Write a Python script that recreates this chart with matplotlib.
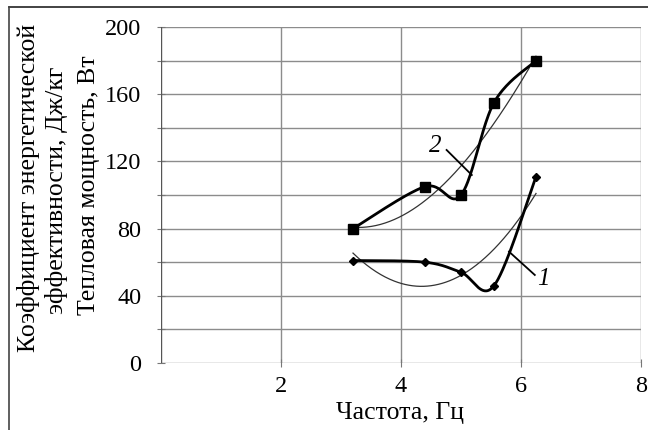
import numpy as np
import matplotlib
matplotlib.use("Agg")
import matplotlib.pyplot as plt
from matplotlib.lines import Line2D

# Frequency, Hz
freq = [3.2, 4.4, 5.0, 5.55, 6.25]
# Curve 1: energy efficiency coefficient, J/kg
coef_1 = [61, 60, 54, 46, 111]
# Curve 2: heat power, W
power_2 = [80, 105, 100, 155, 180]

x_ticks = [2, 4, 6, 8]
y_ticks = [0, 40, 80, 120, 160, 200]

SERIF = ["Liberation Serif", "DejaVu Serif"]
plt.rcParams["font.family"] = SERIF

W, H = 648, 430
fig = plt.figure(figsize=(W / 100, H / 100), dpi=100)
ax = fig.add_axes([161 / W, (H - 363) / H, (641 - 161) / W, (363 - 27) / H])
ax.set_xlim(0, 8)
ax.set_ylim(0, 200)

# grid
grid_kw = dict(color="#8c8c8c", lw=1.0, zorder=1)
for yv in range(0, 201, 20):
    ax.axhline(yv, **grid_kw)
for xv in x_ticks:
    ax.axvline(xv, **grid_kw)
for s in ax.spines.values():
    s.set_visible(False)
ax.axvline(0, color="#555555", lw=1.0, zorder=2)

ax.set_xticks(x_ticks)
ax.set_yticks(y_ticks)
ax.set_yticks(range(20, 200, 40), minor=True)
ax.tick_params(axis="both", which="both", direction="inout", length=6,
               width=0.8, color="#777777", labelsize=17.5)
ax.tick_params(axis="x", pad=6)
ax.tick_params(axis="y", pad=11)


def smooth(xs, ys, sx=60.0, sy=1.68, n=40):
    """Bezier smoothing with Catmull-Rom control points in screen scale."""
    P = np.column_stack([np.asarray(xs) * sx, np.asarray(ys) * sy])
    out = []
    for i in range(len(P) - 1):
        p0 = P[i - 1] if i > 0 else P[i]
        p1, p2 = P[i], P[i + 1]
        p3 = P[i + 2] if i + 2 < len(P) else P[i + 1]
        c1 = p1 + (p2 - p0) / 6.0
        c2 = p2 - (p3 - p1) / 6.0
        t = np.linspace(0, 1, n)[:, None]
        seg = ((1 - t) ** 3) * p1 + 3 * ((1 - t) ** 2) * t * c1 \
            + 3 * (1 - t) * t ** 2 * c2 + t ** 3 * p2
        out.append(seg if i == 0 else seg[1:])
    out = np.vstack(out)
    return out[:, 0] / sx, out[:, 1] / sy


# thin polynomial trend lines
xx = np.linspace(freq[0], freq[-1], 200)
p1 = np.polyfit(freq, coef_1, 2)
p2 = np.polyfit(freq, power_2, 3)
ax.plot(xx, np.polyval(p1, xx), color="#333333", lw=0.9, zorder=3)
ax.plot(xx, np.polyval(p2, xx), color="#333333", lw=0.9, zorder=3)

# thick smoothed data curves
sx1, sy1 = smooth(freq, coef_1)
sx2, sy2 = smooth(freq, power_2)
ax.plot(sx1, sy1, color="black", lw=2.0, zorder=4)
ax.plot(sx2, sy2, color="black", lw=2.0, zorder=4)
ax.plot(freq, coef_1, linestyle="none", marker="D", ms=4.5,
        color="black", zorder=5)
ax.plot(freq, power_2, linestyle="none", marker="s", ms=6.5,
        color="black", zorder=5)

# curve labels with leaders
ax.text(4.57, 129, "2", fontsize=18, style="italic", ha="center", va="center")
ax.plot([4.76, 5.18], [126.8, 111.9], color="black", lw=1.3, zorder=4)
ax.text(6.38, 50, "1", fontsize=18, style="italic", ha="center", va="center")
ax.plot([6.23, 5.80], [52.4, 66.3], color="black", lw=1.3, zorder=4)

# axis titles
fig.text(400 / W, 1 - 413 / H, "Частота, Гц", fontsize=18.5,
         ha="center", va="center")
fig.text(29 / W, 1 - 188 / H, "Коэффициент энергетической",
         fontsize=18.5, rotation=90, ha="center", va="center")
fig.text(57 / W, 1 - 190 / H, "эффективности, Дж/кг",
         fontsize=18.5, rotation=90, ha="center", va="center")
fig.text(89 / W, 1 - 185 / H, "Тепловая мощность, Вт",
         fontsize=18.5, rotation=90, ha="center", va="center")

# frame lines along the top and left edges
fig.add_artist(Line2D([9 / W, 1], [1 - 7 / H, 1 - 7 / H],
                      transform=fig.transFigure, color="#222222", lw=1.2))
fig.add_artist(Line2D([9 / W, 9 / W], [0, 1 - 7 / H],
                      transform=fig.transFigure, color="#444444", lw=1.2))

fig.savefig("out.png", dpi=100)
